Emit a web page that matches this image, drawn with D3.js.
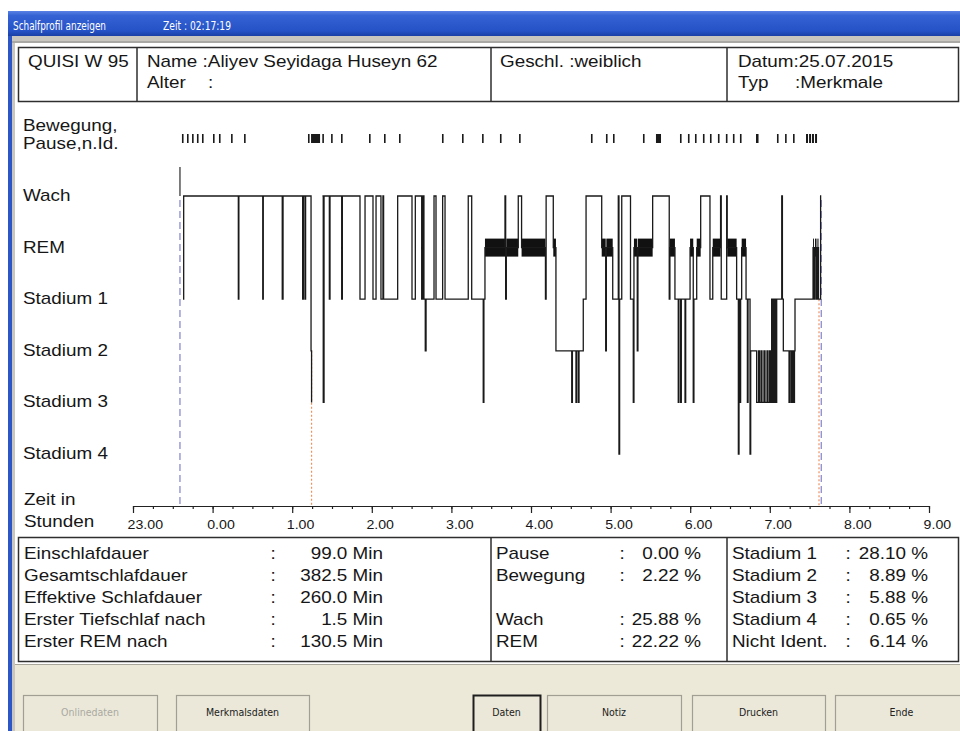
<!DOCTYPE html>
<html>
<head>
<meta charset="utf-8">
<script src="https://cdn.jsdelivr.net/npm/d3@7"></script>
<style>
  body { margin: 0; background: #fff; }
  svg { display: block; font-family: "Liberation Sans", Arial, sans-serif; }
</style>
</head>
<body>
<svg id="chart" width="960" height="731"></svg>
<script>
// ---- data (times are minutes after 23:00) ----
const stageCodes = ['W', 'R', '1', '2', '3', '4'];
const stageNames = ['Wach', 'REM', 'Stadium 1', 'Stadium 2', 'Stadium 3', 'Stadium 4'];
const hourTicks = d3.range(0, 601, 60);
const quarterTicks = d3.range(0, 601, 15);

const recordStart = 35.4, recordEnd = 518.8;
const sleepOnset = 134.6, sleepEnd = 517.1;

// [start minute, stage]  null = movement gap
const hypnogram = [
  [37.7,'1'],[38.2,'W'],[79.4,'1'],[79.8,'W'],[97.8,'1'],[98.2,'W'],[112.5,'1'],[113.1,'W'],
  [127.9,'1'],[128.4,'W'],[129.6,'1'],[130.1,'W'],[134.2,'2'],[134.6,'3'],[135.2,null],
  [142.8,'W'],[143.4,'3'],[144.0,'W'],[148.0,'1'],[148.5,'W'],[157.3,'1'],[157.8,'W'],
  [171.1,'1'],[174.9,'W'],[180.9,'1'],[183.2,'W'],[186.9,'1'],[188.4,'W'],[188.9,'1'],
  [199.5,'W'],[210.3,'1'],[212.8,'W'],[217.6,'1'],[218.6,'W'],[219.3,'1'],[220.3,'2'],[220.9,'1'],
  [226.9,'W'],[228.4,'1'],[233.4,'W'],[235.2,'1'],[252.7,'W'],[255.3,'1'],[264.0,'3'],[264.5,'1'],
  [265.3,'R'],[280.4,'W'],[280.9,'1'],[281.4,'R'],[290.4,'W'],[292.9,'R'],[310.9,'1'],[311.4,'W'],
  [316.8,'R'],[318.8,'2'],[330.7,'3'],[331.2,'2'],[333.9,'3'],[334.4,'2'],[335.7,'3'],[336.2,'2'],
  [339.4,'1'],[341.5,'W'],[353.3,'R'],[356.3,'2'],[356.8,'R'],[361.6,'1'],[365.8,'W'],[366.3,'4'],[366.8,'1'],
  [368.4,'W'],[375.0,'1'],[377.1,'3'],[377.6,'R'],[380.1,'2'],[380.6,'R'],[391.7,'W'],
  [404.2,'1'],[404.7,'R'],[408.5,'1'],[411.0,'3'],[411.5,'1'],[412.8,'3'],[413.3,'1'],[416.1,'3'],[416.6,'1'],
  [419.9,'R'],[422.3,'3'],[422.8,'1'],[424.9,'R'],[427.9,'W'],[434.9,'1'],[437.0,'R'],[442.9,'W'],[443.4,'1'],
  [447.5,'W'],[447.9,'R'],[455.0,'1'],[456.3,'4'],[456.8,'1'],[457.5,'3'],[458.0,'1'],[458.8,'R'],
  [462.1,'1'],[463.1,'3'],[463.6,'1'],[465.1,'4'],[465.6,'2'],[470.1,'3'],[471.5,'2'],[472.2,'3'],
  [473.4,'2'],[474.1,'3'],[475.6,'2'],[476.4,'3'],[477.9,'2'],[478.6,'3'],[479.8,'2'],[480.5,'3'],
  [481.4,'1'],[482.0,'3'],[482.5,'1'],[483.1,'3'],[483.7,'1'],[484.6,'3'],[485.2,'1'],
  [489.0,'W'],[489.5,'1'],[490.2,'2'],[494.5,'3'],[495.2,'2'],[496.3,'3'],[497.1,'2'],[497.9,'3'],[498.6,'2'],
  [499.0,'1'],[512.6,'R'],[513.3,'1'],[514.1,'R'],[515.2,'1'],[515.9,'R'],[516.7,'1'],[518.3,'W'],[518.8,'W']
];

// movement / pause epochs [start, end]
const movements = [
  [36.9,38.1],[40.7,41.8],[44.5,45.6],[48.2,49.4],[52.0,53.1],[60.3,61.4],[64.8,66.0],[73.9,75.0],[83.7,84.8],
  [131.9,133.0],[134.2,141.0],[142.7,143.8],[149.3,150.4],[156.8,157.9],
  [177.9,179.0],[189.2,190.3],[200.5,201.6],
  [232.9,234.0],[248.0,249.1],[263.1,264.2],[276.6,277.8],[291.0,292.1],
  [345.2,346.4],[356.5,357.7],[361.8,362.9],[384.4,385.5],[394.2,398.0],
  [412.3,413.4],[418.3,419.4],[423.6,424.7],[429.6,430.7],[434.9,436.0],[440.9,442.0],
  [446.9,448.0],[452.2,453.3],[457.5,458.6],[469.6,471.5],
  [485.4,486.6],[491.5,492.6],[497.5,498.6],
  [507.3,508.8],[509.6,511.1],[511.8,513.3],[514.1,515.6]
];

const statsLeft = [['Einschlafdauer', '99.0 Min'], ['Gesamtschlafdauer', '382.5 Min'],
  ['Effektive Schlafdauer', '260.0 Min'], ['Erster Tiefschlaf nach', '1.5 Min'], ['Erster REM nach', '130.5 Min']];
const statsMid = [['Pause', '0.00 %'], ['Bewegung', '2.22 %'], null, ['Wach', '25.88 %'], ['REM', '22.22 %']];
const statsRight = [['Stadium 1', '28.10 %'], ['Stadium 2', '8.89 %'], ['Stadium 3', '5.88 %'],
  ['Stadium 4', '0.65 %'], ['Nicht Ident.', '6.14 %']];

const buttonNames = ['Onlinedaten', 'Merkmalsdaten', 'Daten', 'Notiz', 'Drucken', 'Ende'];

// ---- layout ----
const SX = 1.18;   // screenshot text is a bit wider than plain Arial
const svg = d3.select('#chart');

function txt(g, x, y, s, o = {}) {
  return g.append('text')
      .attr('transform', `translate(${x},${y}) scale(${o.sx ?? SX},1)`)
      .attr('text-anchor', o.anchor || 'start')
      .attr('font-size', o.size || 16)
      .attr('fill', o.fill || '#161616')
      .text(s);
}

const x = d3.scaleLinear().domain([0, 600]).range([133, 929]);
const y = d3.scalePoint().domain(stageCodes).range([196, 454]);
const axisY = 506;

// window frame
const defs = svg.append('defs');
const grad = defs.append('linearGradient').attr('id', 'tb').attr('x1', 0).attr('y1', 0).attr('x2', 0).attr('y2', 1);
grad.append('stop').attr('offset', '0%').attr('stop-color', '#5a82e4');
grad.append('stop').attr('offset', '18%').attr('stop-color', '#3563d4');
grad.append('stop').attr('offset', '80%').attr('stop-color', '#2552c6');
grad.append('stop').attr('offset', '100%').attr('stop-color', '#1b40a6');

svg.append('rect').attr('x', 8).attr('y', 11).attr('width', 952).attr('height', 720).attr('fill', '#2c55c6');
svg.append('rect').attr('x', 12).attr('y', 36).attr('width', 948).attr('height', 695).attr('fill', '#c8c6bf');
svg.append('rect').attr('x', 15).attr('y', 43).attr('width', 945).attr('height', 621).attr('fill', '#fff');
svg.append('line').attr('x1', 12).attr('x2', 960).attr('y1', 42).attr('y2', 42).attr('stroke', '#8a8a8a');
svg.append('rect').attr('x', 15).attr('y', 665).attr('width', 945).attr('height', 66).attr('fill', '#ece9d8');
svg.append('line').attr('x1', 15).attr('x2', 960).attr('y1', 664.5).attr('y2', 664.5).attr('stroke', '#a9a79c');

svg.append('rect').attr('x', 8).attr('y', 11).attr('width', 952).attr('height', 25).attr('fill', 'url(#tb)');
svg.append('text').attr('x', 13).attr('y', 30).attr('fill', '#fff').attr('font-size', 12)
    .attr('font-family', '"Liberation Sans Narrow", "DejaVu Sans Condensed", sans-serif')
    .attr('textLength', 93).attr('lengthAdjust', 'spacingAndGlyphs').text('Schalfprofil anzeigen');
svg.append('text').attr('x', 163).attr('y', 30).attr('fill', '#fff').attr('font-size', 12)
    .attr('font-family', '"Liberation Sans Narrow", "DejaVu Sans Condensed", sans-serif')
    .attr('textLength', 68).attr('lengthAdjust', 'spacingAndGlyphs').text('Zeit : 02:17:19');

// header box
const head = svg.append('g');
head.append('rect').attr('x', 18.5).attr('y', 47.5).attr('width', 940).attr('height', 54)
    .attr('fill', 'none').attr('stroke', '#2e2e2e').attr('stroke-width', 1.5);
[137, 491, 727].forEach(d => head.append('line').attr('x1', d).attr('x2', d).attr('y1', 47.5).attr('y2', 101.5)
    .attr('stroke', '#2e2e2e').attr('stroke-width', 1.5));
txt(head, 28, 67, 'QUISI W 95');
txt(head, 147, 67, 'Name :Aliyev Seyidaga Huseyn 62');
txt(head, 147, 88, 'Alter');
txt(head, 208, 88, ':');
txt(head, 500, 67, 'Geschl. :weiblich');
txt(head, 738, 67, 'Datum:25.07.2015');
txt(head, 738, 88, 'Typ');
txt(head, 795, 88, ':Merkmale');

// movement row
const chart = svg.append('g');
txt(chart, 23, 131, 'Bewegung,');
txt(chart, 23, 149, 'Pause,n.Id.');
chart.append('g').selectAll('rect').data(movements).join('rect')
    .attr('x', d => x(d[0]))
    .attr('y', 134)
    .attr('width', d => Math.max(1.6, x(d[1]) - x(d[0])))
    .attr('height', 9)
    .attr('fill', '#1a1a1a');

// stage labels
stageCodes.forEach((c, i) => txt(chart, 23, y(c) + 5, stageNames[i]));

// record / sleep markers
chart.append('line').attr('x1', x(recordStart)).attr('x2', x(recordStart)).attr('y1', 167).attr('y2', y('W'))
    .attr('stroke', '#555').attr('stroke-width', 1.5);
[recordStart, recordEnd].forEach(t => chart.append('line')
    .attr('x1', x(t)).attr('x2', x(t)).attr('y1', y('W') + 4).attr('y2', axisY)
    .attr('stroke', '#8c8cd0').attr('stroke-width', 1.3).attr('stroke-dasharray', '7,4'));
[[sleepOnset, '2'], [sleepEnd, '1']].forEach(d => chart.append('line')
    .attr('x1', x(d[0])).attr('x2', x(d[0])).attr('y1', y(d[1])).attr('y2', axisY)
    .attr('stroke', '#f0905a').attr('stroke-width', 1.2).attr('stroke-dasharray', '2,2'));

// REM thick bars
const remSegs = hypnogram.slice(0, -1).map((d, i) => [d[0], hypnogram[i + 1][0], d[1]]).filter(d => d[2] === 'R');
chart.append('g').selectAll('rect').data(remSegs).join('rect')
    .attr('x', d => x(d[0]))
    .attr('width', d => x(d[1]) - x(d[0]))
    .attr('y', y('R') - 9)
    .attr('height', 18)
    .attr('fill', '#111');

// stage trace
const line = d3.line()
    .defined(d => d[1] !== null)
    .x(d => x(d[0]))
    .y(d => y(d[1]))
    .curve(d3.curveStepAfter);
chart.append('path').datum(hypnogram)
    .attr('d', line)
    .attr('fill', 'none')
    .attr('stroke', '#1a1a1a')
    .attr('stroke-width', 1.3);

// time axis
txt(chart, 24, 505, 'Zeit in');
txt(chart, 24, 527, 'Stunden');

const minorAxis = chart.append('g').attr('transform', `translate(0,${axisY})`)
    .call(d3.axisBottom(x).tickValues(quarterTicks).tickSize(3).tickSizeOuter(0).tickFormat(''));
minorAxis.select('.domain').remove();
const majorAxis = chart.append('g').attr('transform', `translate(0,${axisY})`)
    .call(d3.axisBottom(x).tickValues(hourTicks).tickSize(7).tickSizeOuter(0)
      .tickFormat(m => ((23 + m / 60) % 24).toFixed(2)));
[minorAxis, majorAxis].forEach(a => {
  a.attr('font-family', null).attr('font-size', 12);
  a.selectAll('line').attr('stroke', '#222').attr('stroke-width', 1.2);
  a.selectAll('.domain').attr('stroke', '#222').attr('stroke-width', 1.2);
});
majorAxis.selectAll('text')
    .attr('y', 23).attr('dy', null).attr('x', -5)
    .attr('text-anchor', 'start').attr('fill', '#161616')
    .attr('transform', `scale(${SX},1)`);

// statistics box
const stats = svg.append('g');
stats.append('rect').attr('x', 18.5).attr('y', 537.5).attr('width', 940).attr('height', 124)
    .attr('fill', 'none').attr('stroke', '#2e2e2e').attr('stroke-width', 1.5);
[491, 727].forEach(d => stats.append('line').attr('x1', d).attr('x2', d).attr('y1', 537.5).attr('y2', 661.5)
    .attr('stroke', '#2e2e2e').attr('stroke-width', 1.5));
const rowY = d3.range(5).map(i => 559 + i * 22);
[[statsLeft, 24, 273, 383], [statsMid, 496, 622, 701], [statsRight, 732, 848, 928]].forEach(([rows, lx, cx, vx]) => {
  rows.forEach((r, i) => {
    if (!r) return;
    txt(stats, lx, rowY[i], r[0]);
    txt(stats, cx, rowY[i], ':', {anchor: 'middle'});
    txt(stats, vx, rowY[i], r[1], {anchor: 'end'});
  });
});

// buttons
const btnX = [[23, 157], [176, 309], [473, 540], [547, 681], [692, 825], [835, 968]];
const btn = svg.append('g').selectAll('g').data(buttonNames).join('g');
btn.append('rect')
    .attr('x', (d, i) => btnX[i][0] + 0.5)
    .attr('y', 695.5)
    .attr('width', (d, i) => btnX[i][1] - btnX[i][0])
    .attr('height', 40)
    .attr('fill', '#ebe8d9')
    .attr('stroke', d => d === 'Daten' ? '#1e1e1e' : '#a19f94')
    .attr('stroke-width', d => d === 'Daten' ? 2 : 1.2);
btn.append('text')
    .attr('x', (d, i) => (btnX[i][0] + Math.min(btnX[i][1], 960 + 8)) / 2)
    .attr('y', 716)
    .attr('text-anchor', 'middle')
    .attr('font-size', 10.5)
    .attr('font-family', '"Liberation Sans Narrow", "DejaVu Sans Condensed", sans-serif')
    .attr('fill', d => d === 'Onlinedaten' ? '#aaa9a2' : '#222')
    .text(d => d);
</script>
</body>
</html>
